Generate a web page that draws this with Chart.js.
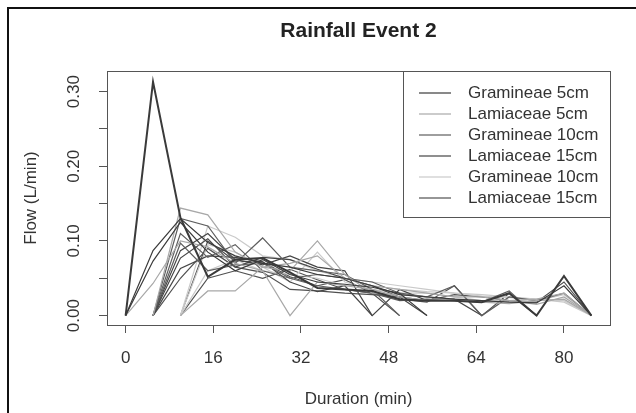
<!DOCTYPE html>
<html>
<head>
<meta charset="utf-8">
<script src="https://cdn.jsdelivr.net/npm/chart.js@4/dist/chart.umd.min.js"></script>
<style>
	html, body { margin: 0; padding: 0; background: #fff; }
	#grafico { display: block; }
</style>
</head>
<body>
<canvas id="grafico" width="636" height="413"></canvas>
<script>
		// eixo x (min)
		var duracao = [0, 5, 10, 15, 20, 25, 30, 35, 40, 45, 50, 55, 60, 65, 70, 75, 80, 85];
		var xTicks = [0, 16, 32, 48, 64, 80];
		var yTicks = [0, 0.05, 0.10, 0.15, 0.20, 0.25, 0.30];

		// legenda
		var nomes = ["Gramineae 5cm", "Lamiaceae 5cm", "Gramineae 10cm", "Lamiaceae 15cm", "Gramineae 10cm", "Lamiaceae 15cm"];
		var cores = ["#3a3a3a", "#a8a8a8", "#5e5e5e", "#454545", "#cacaca", "#505050"];

		// vazão (L/min), 3 repetições por tratamento
		var g1a = [0, 0.313, 0.131, 0.052, 0.075, 0.077, 0.058, 0.037, 0.035, 0.033, 0.022, 0.020, 0.020, 0.018, 0.030, 0.000, 0.053, 0];
		var g1b = [0, 0.087, 0.130, 0.098, 0.080, 0.070, 0.065, 0.055, 0.050, 0.040, 0.028, 0.025, 0.022, 0.020, 0.018, 0.017, 0.040, 0];
		var g1c = [0, 0.073, 0.125, 0.085, 0.060, 0.075, 0.055, 0.045, 0.042, 0.038, 0.030, 0.000, null, null, null, null, null, null];

		var g2a = [0, 0.043, 0.100, 0.092, 0.070, 0.060, 0.000, 0.045, 0.040, 0.035, 0.025, 0.020, 0.022, 0.018, 0.020, 0.015, 0.025, 0];
		var g2b = [null, 0, 0.144, 0.135, 0.085, 0.065, 0.060, 0.100, 0.055, 0.030, 0.028, 0.025, 0.020, 0.018, 0.016, 0.020, 0.022, 0];
		var g2c = [null, null, 0, 0.033, 0.033, 0.065, 0.070, 0.080, 0.050, 0.040, 0.035, 0.030, 0.025, 0.025, 0.020, 0.022, 0.030, 0];

		var g3a = [null, 0, 0.130, 0.120, 0.070, 0.104, 0.065, 0.060, 0.055, 0.035, 0.000, null, null, null, null, null, null, null];
		var g3b = [null, 0, 0.110, 0.078, 0.095, 0.060, 0.050, 0.055, 0.050, 0.045, 0.030, 0.025, 0.040, 0.000, 0.025, 0.020, 0.030, 0];
		var g3c = [null, 0, 0.097, 0.060, 0.068, 0.070, 0.050, 0.040, 0.035, 0.030, 0.020, 0.022, 0.020, 0.018, 0.033, 0.000, null, null];

		var g4a = [null, 0, 0.087, 0.110, 0.075, 0.068, 0.080, 0.065, 0.060, 0.000, null, null, null, null, null, null, null, null];
		var g4b = [null, 0, 0.077, 0.103, 0.065, 0.078, 0.075, 0.062, 0.050, 0.040, 0.025, 0.000, null, null, null, null, null, null];
		var g4c = [null, 0, 0.063, 0.080, 0.078, 0.072, 0.045, 0.032, 0.040, 0.000, 0.035, 0.020, 0.022, 0.000, null, null, null, null];

		var g5a = [null, null, 0, 0.120, 0.105, 0.080, 0.075, 0.060, 0.050, 0.045, 0.040, 0.035, 0.030, 0.028, 0.025, 0.022, 0.020, 0];
		var g5b = [null, null, 0, 0.095, 0.085, 0.065, 0.045, 0.085, 0.045, 0.035, 0.030, 0.030, 0.025, 0.020, 0.018, 0.020, 0.028, 0];
		var g5c = [null, null, 0, 0.060, 0.075, 0.060, 0.055, 0.050, 0.040, 0.040, 0.035, 0.032, 0.030, 0.026, 0.024, 0.022, 0.018, 0];

		var g6a = [null, null, 0, 0.100, 0.073, 0.072, 0.052, 0.040, 0.048, 0.030, 0.000, null, null, null, null, null, null, null];
		var g6b = [null, 0, 0.050, 0.090, 0.065, 0.058, 0.035, 0.033, 0.030, 0.028, 0.025, 0.020, 0.028, 0.025, 0.020, 0.018, 0.045, 0];
		var g6c = [null, null, 0, 0.050, 0.060, 0.050, 0.062, 0.048, 0.035, 0.030, 0.022, 0.018, 0.040, 0.000, 0.030, 0.000, null, null];

		var grupos = [
			[g1a, g1b, g1c],
			[g2a, g2b, g2c],
			[g3a, g3b, g3c],
			[g4a, g4b, g4c],
			[g5a, g5b, g5c],
			[g6a, g6b, g6c]
		];

		var fonte = "'Liberation Sans', Arial, sans-serif";

		// monta os datasets
		var datasets = [];
		for (var i = 0; i < grupos.length; i++) {
			for (var j = 0; j < grupos[i].length; j++) {
				var serie = grupos[i][j];
				datasets.push({
					label: nomes[i],
					data: serie.map(function (v, k) { return { x: duracao[k], y: v }; }),
					borderColor: cores[i],
					borderWidth: (i === 0 && j === 0) ? 2 : 1.2,
					pointRadius: 0,
					tension: 0,
					fill: false,
					spanGaps: false
				});
			}
		}

		// moldura, caixa do grafico, titulo e legenda
		var extras = {
			id: "extras",
			afterDatasetsDraw: function (chart) {
				var ctx = chart.ctx;
				var a = chart.chartArea;
				ctx.save();

				// caixa
				ctx.strokeStyle = "#555";
				ctx.lineWidth = 1;
				ctx.strokeRect(a.left + 0.5, a.top + 0.5, a.right - a.left, a.bottom - a.top);

				// moldura externa
				ctx.strokeStyle = "#111";
				ctx.lineWidth = 2;
				ctx.beginPath();
				ctx.moveTo(8, 413);
				ctx.lineTo(8, 8);
				ctx.lineTo(636, 8);
				ctx.stroke();

				// titulo
				ctx.fillStyle = "#222";
				ctx.font = "bold 21px " + fonte;
				ctx.textAlign = "center";
				ctx.textBaseline = "middle";
				ctx.fillText("Rainfall Event 2", (a.left + a.right) / 2, 31);

				// legenda
				var lx = 403, ly = a.top, lw = a.right - 403, lh = 146;
				ctx.fillStyle = "#fff";
				ctx.fillRect(lx, ly, lw, lh);
				ctx.strokeStyle = "#555";
				ctx.lineWidth = 1;
				ctx.strokeRect(lx + 0.5, ly + 0.5, lw, lh);
				ctx.font = "17px " + fonte;
				ctx.textAlign = "left";
				for (var n = 0; n < nomes.length; n++) {
					var y = ly + 22 + n * 21;
					ctx.strokeStyle = cores[n];
					ctx.lineWidth = 1.2;
					ctx.beginPath();
					ctx.moveTo(419, y);
					ctx.lineTo(451, y);
					ctx.stroke();
					ctx.fillStyle = "#333";
					ctx.fillText(nomes[n], 468, y);
				}
				ctx.restore();
			}
		};

		var ctx = document.getElementById("grafico");

		var chartGraph = new Chart(ctx, {
			type: "line",
			data: { datasets: datasets },
			plugins: [extras],
			options: {
				responsive: false,
				animation: false,
				devicePixelRatio: 1,
				layout: { padding: { left: 0, right: 26, top: 71, bottom: 0 } },
				plugins: {
					legend: { display: false },
					title: { display: false },
					tooltip: { enabled: false }
				},
				scales: {
					x: {
						type: "linear",
						min: -3.4,
						max: 88.4,
						afterBuildTicks: function (s) { s.ticks = xTicks.map(function (v) { return { value: v }; }); },
						afterFit: function (s) { s.height = 88; },
						ticks: {
							color: "#333",
							font: { size: 17, family: fonte },
							padding: 15,
							maxRotation: 0,
							autoSkip: false
						},
						grid: { drawOnChartArea: false, drawTicks: true, tickLength: 8, color: "#555" },
						border: { display: true, color: "#555" },
						title: {
							display: true,
							text: "Duration (min)",
							color: "#333",
							font: { size: 17, family: fonte },
							padding: { top: 0, bottom: 3 }
						}
					},
					y: {
						type: "linear",
						min: -0.0126,
						max: 0.3276,
						afterBuildTicks: function (s) { s.ticks = yTicks.map(function (v) { return { value: v }; }); },
						afterFit: function (s) { s.width = 107; },
						ticks: {
							color: "#333",
							font: { size: 17, family: fonte },
							padding: 8,
							minRotation: 90,
							maxRotation: 90,
							crossAlign: "center",
							autoSkip: false,
							callback: function (v) {
								return (Math.round(v * 100) % 10 === 0) ? v.toFixed(2) : "";
							}
						},
						grid: { drawOnChartArea: false, drawTicks: true, tickLength: 8, color: "#555" },
						border: { display: true, color: "#555" },
						title: {
							display: true,
							text: "Flow (L/min)",
							color: "#333",
							font: { size: 17, family: fonte },
							padding: { top: 21, bottom: 0 }
						}
					}
				}
			}
		});
</script>
</body>
</html>
